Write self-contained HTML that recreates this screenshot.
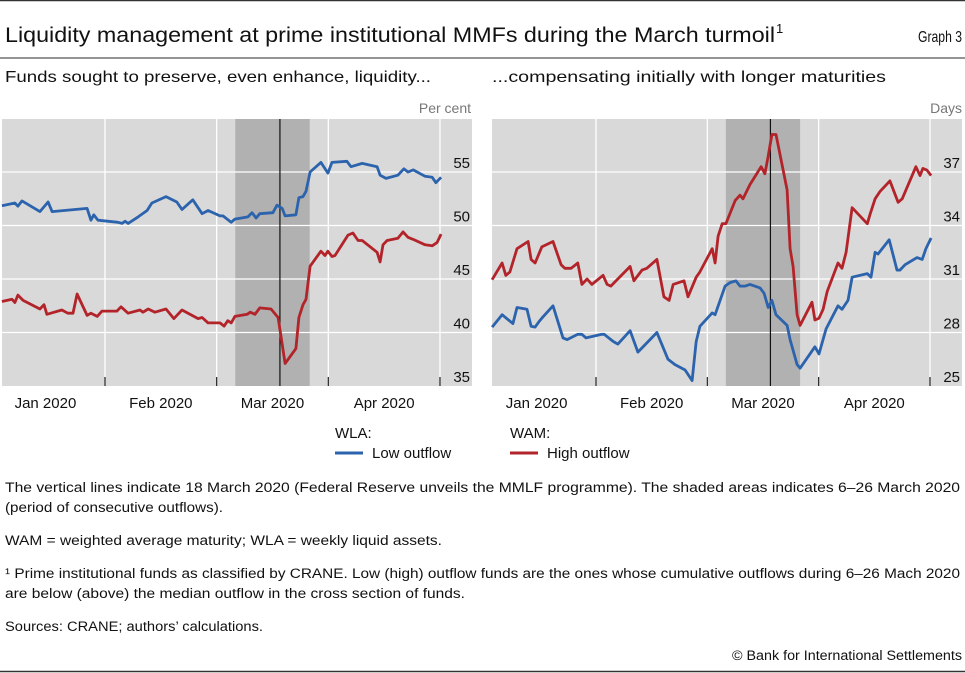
<!DOCTYPE html>
<html><head><meta charset="utf-8"><style>
html,body{margin:0;padding:0;background:#fff;}
svg{display:block;font-family:"Liberation Sans",sans-serif;}
</style></head><body>
<svg id="fig" width="965" height="673" viewBox="0 0 965 673" xmlns="http://www.w3.org/2000/svg">
<line x1="0" y1="0.5" x2="965" y2="0.5" stroke="#333" stroke-width="1.5"/>
<text x="5" y="42" font-size="21" fill="#111" textLength="770" lengthAdjust="spacingAndGlyphs">Liquidity management at prime institutional MMFs during the March turmoil</text>
<text x="776" y="33" font-size="13" fill="#111">1</text>
<text x="962" y="42" font-size="16" fill="#111" text-anchor="end" textLength="44" lengthAdjust="spacingAndGlyphs">Graph 3</text>
<line x1="0" y1="58" x2="965" y2="58" stroke="#555" stroke-width="1.2"/>
<text x="5" y="82" font-size="16" fill="#111" textLength="426" lengthAdjust="spacingAndGlyphs">Funds sought to preserve, even enhance, liquidity...</text>
<text x="492" y="82" font-size="16" fill="#111" textLength="394" lengthAdjust="spacingAndGlyphs">...compensating initially with longer maturities</text>
<text x="471" y="113" font-size="14" fill="#777" text-anchor="end">Per cent</text>
<text x="962" y="113" font-size="14" fill="#777" text-anchor="end">Days</text>
<g id="left"></g>
<g id="right"></g>
<g>
<text x="335" y="438" font-size="15" fill="#111">WLA:</text>
<text x="510" y="438" font-size="15" fill="#111">WAM:</text>
<line x1="335" y1="453" x2="363" y2="453" stroke="#2c63ad" stroke-width="3"/>
<text x="372" y="458" font-size="15" fill="#111">Low outflow</text>
<line x1="510" y1="453" x2="538" y2="453" stroke="#b3242a" stroke-width="3"/>
<text x="547" y="458" font-size="15" fill="#111">High outflow</text>
</g>
<g font-size="13.5" fill="#111">
<text x="5" y="492" textLength="955" lengthAdjust="spacingAndGlyphs">The vertical lines indicate 18 March 2020 (Federal Reserve unveils the MMLF programme). The shaded areas indicates 6–26 March 2020</text>
<text x="5" y="512" textLength="218" lengthAdjust="spacingAndGlyphs">(period of consecutive outflows).</text>
<text x="5" y="545" textLength="437" lengthAdjust="spacingAndGlyphs">WAM = weighted average maturity; WLA = weekly liquid assets.</text>
<text x="5" y="578" textLength="955" lengthAdjust="spacingAndGlyphs">¹  Prime institutional funds as classified by CRANE. Low (high) outflow funds are the ones whose cumulative outflows during 6–26 Mach 2020</text>
<text x="5" y="598" textLength="460" lengthAdjust="spacingAndGlyphs">are below (above) the median outflow in the cross section of funds.</text>
<text x="5" y="631" textLength="258" lengthAdjust="spacingAndGlyphs">Sources: CRANE; authors’ calculations.</text>
<text x="962" y="660" text-anchor="end" textLength="230" lengthAdjust="spacingAndGlyphs">© Bank for International Settlements</text>
</g>
<line x1="0" y1="671.5" x2="965" y2="671.5" stroke="#333" stroke-width="1.5"/>
</svg>
<script>
// day index (Jan 1 = 0)
const monthStarts = [31, 61, 91, 121];
const monthLabels = ["Jan 2020", "Feb 2020", "Mar 2020", "Apr 2020"];
const monthLabelDays = [15, 46, 76, 106];
const shadeStart = 66, shadeEnd = 86, eventDay = 78;

const leftTicks = [35, 40, 45, 50, 55];
const leftBlueDays = [3.3,6.8,7.6,8.7,13.5,15.7,16.8,26.2,27.2,28,29.1,34.5,35.6,36.4,37.2,39.9,42.3,43.6,47.4,50.3,51.7,54.6,57.1,58.7,61.9,62.7,64.9,65.9,69.4,70.5,71.6,72.6,76.1,77.2,78.6,79.4,82.3,83.1,84.2,85,86.1,89,90.9,92,96,97.1,100.1,104.1,104.9,106.5,109.7,111.3,112.4,113.8,117,118.9,119.9,121.3];
const leftBlueVals = [51.85,52.1,51.8,52.3,51.3,52.2,51.3,51.6,50.5,51,50.5,50.3,50.2,50.4,50.2,50.8,51.4,52.1,52.7,52.2,51.5,52.4,51.1,51.4,50.9,50.9,50.3,50.6,50.8,51.2,50.7,51.1,51.2,51.9,51.6,50.9,51.0,52.6,52.7,53.2,55.0,55.9,54.9,55.9,56.0,55.5,55.8,55.5,54.7,54.4,54.7,55.3,55.0,55.2,54.6,54.5,54.0,54.5];
const leftRedDays = [3.3,6,6.8,7.6,9,13.5,14.6,15.4,19.4,21,22.4,23.5,26.2,27.2,28.9,30.2,34.2,35.3,37.2,40.4,41.2,42.6,44.4,47.4,49.5,51.7,56,57.1,58.7,61.9,63,64,64.9,65.9,69.2,70,71.3,72.6,75.6,77.5,79.4,82.3,83.1,84.2,85,86.1,89,90.1,90.9,92,92.8,96.3,97.6,99,100.1,104.1,104.9,105.7,106.8,109.7,111.1,112.4,113.8,117,118.9,120.2,121.3];
const leftRedVals = [42.9,43.1,42.8,43.5,43.0,42.2,42.6,41.7,42.1,41.8,41.8,43.6,41.6,41.8,41.5,42.0,42.0,42.4,41.8,42.1,41.9,42.2,41.9,42.2,41.3,42.1,41.3,41.4,40.9,40.9,40.6,41.1,40.9,41.5,41.7,41.9,41.7,42.3,42.2,41.4,37.1,38.5,41.4,42.6,43.1,46.2,47.6,47.2,47.6,47.1,47.2,49.1,49.3,48.6,48.6,47.5,46.6,48.2,48.6,48.8,49.4,48.9,48.7,48.2,48.1,48.4,49.2];

const rightTicks = [25, 28, 31, 34, 37];
const rightRedDays = [3,5.7,6.7,7.8,9.7,12.7,13.5,14.6,16.4,19.4,21.6,22.6,24.3,26.1,27.2,28.6,29.9,32.9,34,35,40.2,41.2,43.4,44.7,47.4,49.3,50.7,51.8,54.7,55.8,58,59,62.3,63.1,63.9,65,66,68.5,69.8,70.6,72.5,75.5,76.5,77.4,78.4,79.5,82.5,83.3,84.1,85.2,86,89.2,90,91.1,92.2,93.3,96.2,97.3,98.4,100,104.1,104.8,106.2,107.5,110.2,112.4,113.5,117.2,118.3,119.1,120.2,121.3];
const rightRedVals = [30.96,31.9,31.2,31.4,32.7,33.1,32.1,31.9,32.8,33.1,31.8,31.6,31.6,31.9,30.7,31.0,30.7,31.2,30.7,30.6,31.7,30.9,31.5,31.6,32.1,30.0,29.8,30.7,30.9,30.0,31.1,31.4,32.7,31.9,33.4,34.1,34.1,35.4,35.7,35.5,36.3,37.3,36.9,37.9,39.1,39.1,36.0,32.7,31.7,29.0,28.4,29.7,28.7,28.8,29.3,30.3,31.9,31.6,32.5,35.0,34.1,34.6,35.5,35.9,36.5,35.3,35.5,37.3,36.8,37.2,37.1,36.8];
const rightBlueDays = [3,5.7,8.6,9.7,12.4,13.5,14.6,15.6,16.4,19.4,22.1,23.2,26.1,27.2,28.3,32.6,33.2,35.6,36.9,40.2,42.3,47.4,50.4,52.3,55,56.9,58,59,62.3,63.1,65.8,67.1,68.7,69.8,71.2,72.5,75.2,76.3,77.4,78.4,79.5,82.5,83.3,85.2,86,90,91.1,93,96.2,97.3,98.9,100,104.1,105.1,106.2,107,110,112.1,112.9,114.3,117.5,118.9,119.9,121.3];
const rightBlueVals = [28.3,29.0,28.5,29.4,29.3,28.35,28.3,28.6,28.8,29.5,27.7,27.6,27.9,27.9,27.7,27.9,27.9,27.5,27.35,28.1,26.9,28.0,26.5,26.2,25.9,25.3,27.5,28.35,29.1,29.0,30.6,30.8,30.9,30.6,30.6,30.7,30.5,30.2,29.4,29.8,29.0,28.4,27.6,26.2,26.0,27.2,26.8,28.2,29.5,29.3,29.8,31.1,31.3,31.1,32.5,32.4,33.2,31.5,31.5,31.8,32.2,32.1,32.7,33.3];

const NS = "http://www.w3.org/2000/svg";
function mk(tag, attrs, parent) {
  const e = document.createElementNS(NS, tag);
  for (const k in attrs) e.setAttribute(k, attrs[k]);
  parent.appendChild(e);
  return e;
}

function panel(g, cfg) {
  const xS = d => cfg.x31 + (d - 31) * cfg.pxPerDay;
  const yS = v => cfg.yBottom - (v - cfg.vMin) / (cfg.vMax - cfg.vMin) * (cfg.yBottom - cfg.yTopTick);
  const bg = mk("rect", {x: cfg.left, y: 119, width: cfg.right - cfg.left, height: cfg.yBottom - 119, fill: "#d9d9d9"}, g);
  
  
  const sh = mk("rect", {x: xS(shadeStart), y: 119, width: xS(shadeEnd) - xS(shadeStart), height: cfg.yBottom - 119, fill: "#b1b1b1"}, g);
  
  
  cfg.ticks.forEach(t => {
    const y = yS(t);
    if (t !== cfg.vMin) {
      const l = mk("line", {x1: cfg.left, x2: cfg.right, y1: y, y2: y, stroke: "#fff", "stroke-width": 1.3}, g);
      
      
    }
    const tx = mk("text", {x: cfg.right - 2, y: y - 4, "font-size": 15, fill: "#111", "text-anchor": "end"}, g);
    tx.textContent = t;
    
    
  });
  monthStarts.forEach(d => {
    const x = xS(d);
    const l = mk("line", {x1: x, x2: x, y1: 119, y2: cfg.yBottom, stroke: "#fff", "stroke-width": 1.3}, g);
    
    
    const tk = mk("line", {x1: x, x2: x, y1: cfg.yBottom - 9, y2: cfg.yBottom, stroke: "#222", "stroke-width": 1.2}, g);
    
    
  });
  monthLabels.forEach((m, i) => {
    const tx = mk("text", {x: xS(monthLabelDays[i]), y: 408, "font-size": 15, fill: "#111", "text-anchor": "middle"}, g);
    tx.textContent = m;
    
    
  });
  const ev = mk("line", {x1: xS(eventDay), x2: xS(eventDay), y1: 119, y2: cfg.yBottom, stroke: "#111", "stroke-width": 1.2}, g);
  
  
  cfg.series.forEach(s => {
    const pts = s.days.map((d, i) => xS(d).toFixed(1) + "," + yS(s.vals[i]).toFixed(1)).join(" ");
    const p = mk("polyline", {points: pts, fill: "none", stroke: s.color, "stroke-width": 2.8, "stroke-linejoin": "round"}, g);
    
    
  });
}

panel(document.getElementById("left"), {
  left: 2, right: 472, yBottom: 386, yTopTick: 172, vMin: 35, vMax: 55,
  x31: 105, pxPerDay: 3.722, ticks: leftTicks,
  series: [
    {days: leftBlueDays, vals: leftBlueVals, color: "#2c63ad", name: "wla-low-outflow-line"},
    {days: leftRedDays, vals: leftRedVals, color: "#b3242a", name: "wla-high-outflow-line"}
  ]
});
panel(document.getElementById("right"), {
  left: 492, right: 962, yBottom: 386, yTopTick: 172, vMin: 25, vMax: 37,
  x31: 596, pxPerDay: 3.711, ticks: rightTicks,
  series: [
    {days: rightBlueDays, vals: rightBlueVals, color: "#2c63ad", name: "wam-low-outflow-line"},
    {days: rightRedDays, vals: rightRedVals, color: "#b3242a", name: "wam-high-outflow-line"}
  ]
});
</script>
</body></html>
